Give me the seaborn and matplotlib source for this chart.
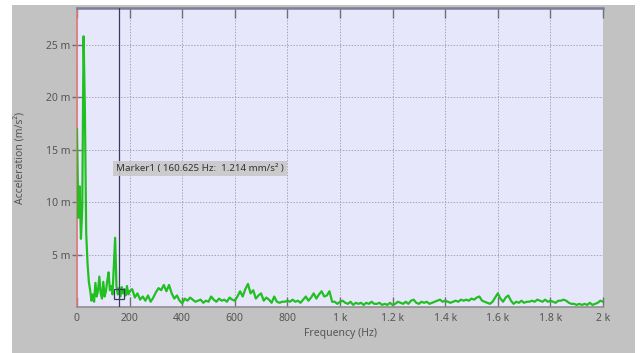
import numpy as np
import pandas as pd
import matplotlib
matplotlib.use("Agg")
import matplotlib.pyplot as plt
import seaborn as sns

# ---- data ----
# 0-195 Hz, 5 Hz bins
freq_low = list(range(0, 200, 5))
accel_low = [17.0, 8.5, 11.5, 6.5, 9.5, 25.8, 18.8, 7.0, 4.2, 2.4,
             1.6, 0.6, 1.2, 0.5, 2.3, 1.0, 1.6, 2.9, 1.3, 0.8,
             2.4, 1.0, 1.5, 2.5, 3.3, 1.6, 2.0, 1.2, 4.0, 6.6,
             2.0, 1.2, 1.8, 1.0, 1.9, 1.3, 1.7, 1.1, 2.0, 1.2]
# 200-2000 Hz, 10 Hz bins
freq_high = list(range(200, 2001, 10))
accel_high = [1.5, 1.7, 0.9, 1.3, 0.7, 1.0, 0.6, 1.1, 0.5, 0.9,
              1.4, 1.8, 1.6, 2.1, 1.5, 2.1, 1.3, 0.8, 1.1, 0.6,
              0.35, 0.8, 0.6, 0.9, 0.7, 0.5, 0.6, 0.7, 0.4, 0.6,
              0.5, 1.0, 0.7, 0.5, 0.8, 0.6, 0.7, 0.5, 0.9, 0.7,
              0.6, 1.0, 1.5, 1.0, 1.7, 2.2, 1.3, 1.6, 0.8, 1.1,
              1.3, 0.6, 0.9, 0.7, 0.4, 1.0, 0.5, 0.4, 0.5, 0.5,
              0.6, 0.5, 0.7, 0.5, 0.6, 0.4, 0.7, 1.0, 0.6, 0.9,
              1.3, 0.8, 1.2, 1.5, 1.0, 1.1, 1.5, 0.5, 0.5, 0.3,
              0.5, 0.6, 0.4, 0.3, 0.5, 0.2, 0.4, 0.3, 0.4, 0.2,
              0.4, 0.3, 0.5, 0.3, 0.3, 0.4, 0.2, 0.3, 0.2, 0.4,
              0.2, 0.3, 0.5, 0.4, 0.3, 0.5, 0.3, 0.6, 0.7, 0.4,
              0.3, 0.5, 0.4, 0.5, 0.3, 0.4, 0.5, 0.6, 0.7, 0.5,
              0.6, 0.5, 0.4, 0.5, 0.6, 0.5, 0.7, 0.6, 0.7, 0.6,
              0.8, 0.7, 0.9, 1.0, 0.6, 0.5, 0.4, 0.3, 0.5, 0.9,
              1.3, 0.8, 0.5, 0.9, 1.1, 0.6, 0.3, 0.5, 0.4, 0.6,
              0.4, 0.5, 0.5, 0.6, 0.5, 0.7, 0.6, 0.5, 0.7, 0.5,
              0.6, 0.5, 0.4, 0.6, 0.6, 0.7, 0.6, 0.4, 0.3, 0.3,
              0.2, 0.3, 0.2, 0.3, 0.2, 0.4, 0.2, 0.3, 0.4, 0.6,
              0.5]

x_ticks = [0, 200, 400, 600, 800, 1000, 1200, 1400, 1600, 1800, 2000]
x_tick_labels = ["0", "200", "400", "600", "800", "1 k", "1.2 k", "1.4 k", "1.6 k", "1.8 k", "2 k"]
y_ticks = [5, 10, 15, 20, 25]
y_tick_labels = ["5 m", "10 m", "15 m", "20 m", "25 m"]

marker_freq = 160.625
marker_val = 1.214
marker_text = "Marker1 ( 160.625 Hz:  1.214 mm/s\u00b2 )"

df = pd.DataFrame({"Frequency": freq_low + freq_high,
                   "Acceleration": accel_low + accel_high})

# ---- styling ----
sns.set_style("white")
plt.rcParams["font.family"] = ["Noto Sans", "DejaVu Sans"]

fig = plt.figure(figsize=(6.41, 3.53), dpi=100)
fig.patch.set_facecolor("white")
# gray panel behind the chart
bg_ax = fig.add_axes([12 / 641, 0, (635 - 12) / 641, (353 - 5) / 353], zorder=-10)
bg_ax.set_facecolor("#c2c2c2")
bg_ax.set_xticks([])
bg_ax.set_yticks([])
for s in bg_ax.spines.values():
    s.set_visible(False)

ax = fig.add_axes([77 / 641, 1 - 307 / 353, (603 - 77) / 641, (307 - 8) / 353], zorder=1)
ax.set_facecolor("#e7e7fb")

sns.lineplot(data=df, x="Frequency", y="Acceleration", ax=ax,
             color="#22bf22", linewidth=1.6, zorder=3)

ax.set_xlim(0, 2000)
ax.set_ylim(0, 28.5)
ax.set_xticks(x_ticks)
ax.set_xticklabels(x_tick_labels)
ax.set_yticks(y_ticks)
ax.set_yticklabels(y_tick_labels)

ax.grid(True, color="#a6a6b6", linestyle=(0, (1.5, 1.5)), linewidth=0.7)
ax.set_axisbelow(True)

ax.tick_params(axis="x", direction="in", length=7, width=1, color="#707070",
               labelsize=7.5, labelcolor="#555555", pad=4, top=True, bottom=True)
ax.tick_params(axis="y", direction="inout", length=7, width=1, color="#707070",
               labelsize=7.5, labelcolor="#555555", pad=1, left=True)

ax.spines["right"].set_visible(False)
ax.spines["top"].set_color("#7d7d98")
ax.spines["top"].set_linewidth(1.8)
ax.spines["left"].set_color("#e07878")
ax.spines["left"].set_linewidth(1.2)
ax.spines["bottom"].set_color("#909090")
ax.spines["bottom"].set_linewidth(1.2)

ax.set_xlabel("Frequency (Hz)", fontsize=7.5, color="#555555", labelpad=3)
ax.set_ylabel("Acceleration (m/s\u00b2)", fontsize=7.5, color="#555555", labelpad=14)

# marker
ax.axvline(marker_freq, color="#3a3a60", linewidth=0.9, zorder=4)
ax.plot([marker_freq], [marker_val], marker="s", markersize=7, markerfacecolor="none",
        markeredgecolor="#3a3a60", markeredgewidth=0.9, zorder=5)
ax.text(148, 13.2, marker_text, fontsize=7, color="#333333", va="center", ha="left",
        zorder=6,
        bbox=dict(boxstyle="square,pad=0.35", facecolor="#c8c8c8", edgecolor="none", alpha=0.9))

fig.savefig("out.png", dpi=100, facecolor=fig.get_facecolor())
